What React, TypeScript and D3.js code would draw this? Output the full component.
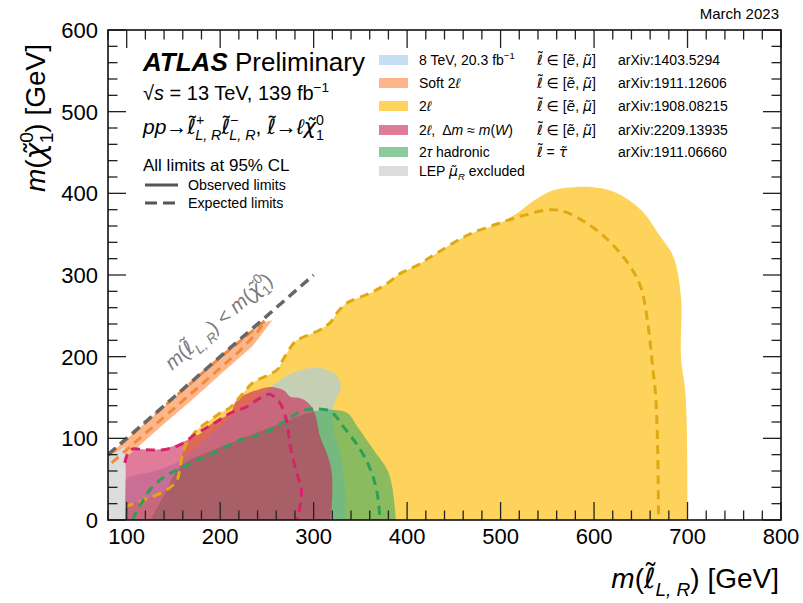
import React from "react";
import * as d3 from "d3";

type P = [number, number];

// ---------------- data (GeV) ----------------
const xMajorTicks = [100, 200, 300, 400, 500, 600, 700, 800];
const yMajorTicks = [0, 100, 200, 300, 400, 500, 600];

const kinematicLine: P[] = [[80, 80], [300, 300]];

const yellowObs: P[] = [
  [98, 0], [98, 16], [117, 24], [143, 37], [154, 49], [157, 65], [162, 89], [168, 100], [175, 110],
  [189, 122], [200, 131], [211, 138], [225, 156], [235, 168], [261, 184], [267, 196], [277, 214],
  [282, 220], [307, 233], [318, 242], [326, 255], [336, 266], [361, 278], [379, 290], [393, 302],
  [411, 312], [432, 327], [465, 349], [500, 364], [518, 376], [537, 392], [557, 404], [575, 407],
  [593, 408], [621, 402], [650, 380], [671, 347], [685, 322], [693, 273], [693, 200], [698, 151],
  [700, 9], [700, 0],
];
const yellowExp: P[] = [
  [98, 16], [117, 24], [143, 37], [154, 49], [157, 65], [162, 89], [168, 100], [175, 110],
  [189, 122], [200, 131], [211, 138], [225, 156], [235, 168], [261, 184], [267, 196], [277, 214],
  [282, 220], [307, 233], [318, 242], [326, 255], [336, 266], [361, 278], [379, 290], [393, 302],
  [411, 312], [432, 327], [465, 349], [500, 364], [525, 373], [554, 380], [572, 376], [607, 351],
  [636, 315], [650, 285], [657, 245], [663, 184], [666, 151], [668, 89], [669, 0],
];

const blueObs: P[] = [
  [98, 0], [98, 48], [130, 60], [157, 73], [180, 95], [210, 125], [240, 150], [264, 171],
  [282, 182], [307, 186], [325, 176], [329, 163], [321, 139], [321, 114], [330, 74], [334, 33], [334, 0],
];

const greenObs: P[] = [
  [125, 0], [140, 30], [157, 65], [200, 89], [246, 110], [300, 133], [318, 135], [336, 131],
  [347, 114], [364, 86], [379, 61], [384, 41], [388, 0],
];
const greenExp: P[] = [
  [106, 0], [125, 37], [143, 55], [157, 63], [179, 75], [200, 86], [221, 98], [246, 106],
  [268, 120], [286, 133], [300, 136], [318, 133], [332, 114], [350, 86], [361, 61], [368, 33], [371, 0],
];

const pinkObs: P[] = [
  [98, 0], [98, 80], [104, 86], [125, 86], [143, 88], [161, 96], [179, 106], [193, 120], [211, 131],
  [218, 147], [239, 159], [254, 163], [268, 159], [275, 151], [286, 149], [297, 140], [302, 128],
  [307, 102], [314, 82], [319, 61], [320, 33], [318, 0],
];
const pinkExp: P[] = [
  [98, 70], [104, 86], [121, 86], [139, 86], [157, 92], [175, 106], [193, 118], [211, 131],
  [229, 139], [242, 149], [253, 154], [264, 143], [271, 122], [275, 90], [282, 57], [287, 37],
  [284, 8], [282, 0],
];

const softObs: P[] = [
  [80, 79], [120, 119], [160, 159], [200, 199], [240, 239], [256, 245], [234, 212], [204, 182],
  [168, 145], [132, 110], [100, 77], [80, 58],
];
const softExp: P[] = [
  [84, 70], [100, 86], [140, 126], [180, 166], [220, 206], [240, 230], [248, 244],
  [200, 199], [150, 149], [100, 99], [82, 81],
];

const lepObs: P[] = [[80, 0], [80, 77], [90, 84], [98, 90], [99, 60], [98, 0]];

const legendLabels = ["8 TeV, 20.3 fb", "Soft 2", "2", "2, Δm ≈ m(W)", "2τ hadronic", "LEP μ̃ excluded"];
const legendRefs = ["arXiv:1403.5294", "arXiv:1911.12606", "arXiv:1908.08215", "arXiv:2209.13935", "arXiv:1911.06660", ""];
const legendRowY = [60, 83, 106, 130, 152, 171];

// ---------------- styles ----------------
const FONT = "'Liberation Sans', Arial, Helvetica, 'DejaVu Sans', sans-serif";
const MFONT = "'DejaVu Sans', sans-serif";
const C_YELLOW = "#fdd35b";
const C_BLUE = "rgb(161,205,236)";
const C_GREEN = "rgb(72,172,96)";
const C_PINK = "rgb(203,35,87)";
const C_ORANGE = "#fdb68a";
const C_LEP = "#dcdcdc";
const A_BLUE = 0.62, A_GREEN = 0.63, A_PINK = 0.6;

const X0 = 108, X1 = 781, Y0 = 520, Y1 = 30;

type Seg = {
  t: string; i?: boolean; b?: boolean; v?: "sup" | "sub"; dx?: number; dxe?: number;
  raise?: number; fs?: number; f?: string;
};

function Rich({ segs, fs, ...rest }: any) {
  let cur = 0;
  return (
    <text fontSize={fs} style={{ whiteSpace: "pre" }} {...rest}>
      {(segs as Seg[]).map((s, k) => {
        const target =
          s.v === "sup" ? -0.42 * fs : s.v === "sub" ? 0.3 * fs : s.raise ? -s.raise * fs : 0;
        const dy = target - cur;
        cur = target;
        const dx = s.dxe !== undefined ? s.dxe * fs : s.dx;
        return (
          <tspan
            key={k}
            dy={dy !== 0 ? dy : undefined}
            dx={dx}
            fontStyle={s.i ? "italic" : undefined}
            fontWeight={s.b ? "bold" : undefined}
            fontFamily={s.f}
            fontSize={s.fs ? s.fs : s.v ? fs * 0.68 : undefined}
          >
            {s.t}
          </tspan>
        );
      })}
    </text>
  );
}

const CHI = "\u03C7\u0303";
// slepton: ell with a hand-placed tilde above
const lt = (): Seg[] => [
  { t: "\u2113", i: true, f: MFONT },
  { t: "\u02DC", dxe: -0.34, raise: 0.2 },
];
const chi = (): Seg => ({ t: CHI, i: true, f: MFONT });

export default function App() {
  const x = d3.scaleLinear().domain([80, 800]).range([X0, X1]);
  const y = d3.scaleLinear().domain([0, 600]).range([Y0, Y1]);
  const smooth = d3
    .line<P>()
    .x((d) => x(d[0]))
    .y((d) => y(d[1]))
    .curve(d3.curveCatmullRom.alpha(0.5));
  const straight = d3.line<P>().x((d) => x(d[0])).y((d) => y(d[1]));
  const closed = (pts: P[]) => (smooth(pts) || "") + "Z";

  const xMinor = d3.range(80, 801, 20).filter((v) => v % 100 !== 0);
  const yMinor = d3.range(0, 601, 20).filter((v) => v % 100 !== 0);
  const MAJ = 18, MIN = 9.5;

  const dash = "9,6";
  const lw = 3;

  const angle = (Math.atan2(y(300) - y(80), x(300) - x(80)) * 180) / Math.PI;

  const sl: Seg[] = [...lt(), { t: " \u2208 [" }, { t: "e\u0303", i: true, f: MFONT }, { t: ", " }, { t: "\u03BC\u0303", i: true, f: MFONT }, { t: "]" }];
  const legendMid: Seg[][] = [sl, sl, sl, sl, [...lt(), { t: " = " }, { t: "\u03C4\u0303", i: true, f: MFONT }], []];
  const legendLab: Seg[][] = [
    [{ t: legendLabels[0] }, { t: "\u22121", v: "sup" }],
    [{ t: legendLabels[1] }, { t: "\u2113", i: true }],
    [{ t: legendLabels[2] }, { t: "\u2113", i: true }],
    [{ t: "2" }, { t: "\u2113", i: true }, { t: ",  Δ" }, { t: "m", i: true }, { t: " ≈ " }, { t: "m", i: true }, { t: "(" }, { t: "W", i: true }, { t: ")" }],
    [{ t: "2" }, { t: "τ", i: true }, { t: " hadronic" }],
    [{ t: "LEP " }, { t: "\u03BC\u0303", i: true, f: MFONT }, { t: "R", i: true, v: "sub" }, { t: " excluded" }],
  ];
  const legendColors = [C_BLUE, C_ORANGE, C_YELLOW, C_PINK, C_GREEN, C_LEP];
  const legendAlpha = [A_BLUE, 1, 1, A_PINK, A_GREEN, 1];

  return (
    <svg
      width={803}
      height={603}
      style={{ position: "absolute", left: 0, top: 0, background: "#fff" }}
      fontFamily={FONT}
    >
      <defs>
        <clipPath id="plot">
          <rect x={X0} y={Y1} width={X1 - X0} height={Y0 - Y1} />
        </clipPath>
      </defs>
      <rect x={0} y={0} width={803} height={603} fill="#fff" />

      <g clipPath="url(#plot)">
        <path d={closed(yellowObs)} fill={C_YELLOW} />
        <path d={closed(blueObs)} fill={C_BLUE} fillOpacity={A_BLUE} />
        <path d={closed(greenObs)} fill={C_GREEN} fillOpacity={A_GREEN} />
        <path d={closed(pinkObs)} fill={C_PINK} fillOpacity={A_PINK} />
        <path d={straight(softObs) + "Z"} fill={C_ORANGE} />
        <path d={straight(lepObs) + "Z"} fill={C_LEP} />

        <path d={smooth(yellowExp) || ""} fill="none" stroke="#e0a812" strokeWidth={lw} strokeDasharray={dash} />
        <path d={smooth(greenExp) || ""} fill="none" stroke="#2e9e58" strokeWidth={lw} strokeDasharray={dash} />
        <path d={smooth(pinkExp) || ""} fill="none" stroke="#d6246a" strokeWidth={lw} strokeDasharray={dash} />
        <path d={straight(softExp) || ""} fill="none" stroke="#f28a3e" strokeWidth={lw} strokeDasharray={dash} />
        <path d={straight(kinematicLine) || ""} fill="none" stroke="#666" strokeWidth={3.5} strokeDasharray="10,6" />
      </g>

      {/* kinematic label */}
      <g transform={`translate(${x(203)},${y(237)}) rotate(${angle})`}>
        <Rich
          fs={20}
          fill="#7a7a7a"
          textAnchor="middle"
          segs={[
            { t: "m", i: true }, { t: "(" }, ...lt(), { t: "L, R", i: true, v: "sub" }, { t: ") < " },
            { t: "m", i: true }, { t: "(" }, chi(), { t: "0", v: "sup" }, { t: "1", v: "sub", dx: -8 }, { t: ")" },
          ]}
        />
      </g>

      {/* frame & ticks */}
      <g stroke="#222" strokeWidth={1.3}>
        {xMajorTicks.map((v) => (
          <g key={"xM" + v}>
            <line x1={x(v)} x2={x(v)} y1={Y0} y2={Y0 - MAJ} />
            <line x1={x(v)} x2={x(v)} y1={Y1} y2={Y1 + MAJ} />
          </g>
        ))}
        {xMinor.map((v) => (
          <g key={"xm" + v}>
            <line x1={x(v)} x2={x(v)} y1={Y0} y2={Y0 - MIN} />
            <line x1={x(v)} x2={x(v)} y1={Y1} y2={Y1 + MIN} />
          </g>
        ))}
        {yMajorTicks.map((v) => (
          <g key={"yM" + v}>
            <line x1={X0} x2={X0 + MAJ} y1={y(v)} y2={y(v)} />
            <line x1={X1} x2={X1 - MAJ} y1={y(v)} y2={y(v)} />
          </g>
        ))}
        {yMinor.map((v) => (
          <g key={"ym" + v}>
            <line x1={X0} x2={X0 + MIN} y1={y(v)} y2={y(v)} />
            <line x1={X1} x2={X1 - MIN} y1={y(v)} y2={y(v)} />
          </g>
        ))}
      </g>
      <rect x={X0} y={Y1} width={X1 - X0} height={Y0 - Y1} fill="none" stroke="#111" strokeWidth={1.6} />

      {/* tick labels */}
      {xMajorTicks.map((v) => (
        <text key={"xl" + v} x={x(v)} y={544} fontSize={22} textAnchor="middle" fill="#000">
          {v}
        </text>
      ))}
      {yMajorTicks.map((v) => (
        <text key={"yl" + v} x={98} y={y(v) + 8} fontSize={22} textAnchor="end" fill="#000">
          {v}
        </text>
      ))}

      {/* axis titles */}
      <Rich
        fs={28}
        x={779}
        y={588}
        textAnchor="end"
        segs={[
          { t: "m", i: true }, { t: "(" }, ...lt(), { t: "L, R", i: true, v: "sub" }, { t: ") [GeV]" },
        ]}
      />
      <g transform="translate(45,118) rotate(-90)">
        <Rich
          fs={28}
          textAnchor="middle"
          segs={[
            { t: "m", i: true }, { t: "(" }, chi(), { t: "0", v: "sup" }, { t: "1", v: "sub", dx: -11 }, { t: ") [GeV]" },
          ]}
        />
      </g>

      <text x={779} y={19} fontSize={15} textAnchor="end">March 2023</text>

      {/* ATLAS block */}
      <text x={143} y={71} fontSize={26}>
        <tspan fontWeight="bold" fontStyle="italic">ATLAS</tspan>
        <tspan> Preliminary</tspan>
      </text>
      <Rich
        fs={20}
        x={143}
        y={100}
        segs={[{ t: "\u221A" }, { t: "s", i: true }, { t: " = 13 TeV, 139 fb" }, { t: "\u22121", v: "sup" }]}
      />
      <Rich
        fs={21}
        x={143}
        y={134}
        segs={[
          { t: "pp", i: true }, { t: "\u2192" }, ...lt(), { t: "+", v: "sup" }, { t: "L, R", i: true, v: "sub", dx: -9 },
          ...lt(), { t: "\u2212", v: "sup" }, { t: "L, R", i: true, v: "sub", dx: -9 },
          { t: ", " }, ...lt(), { t: "\u2192" }, { t: "\u2113", i: true }, chi(),
          { t: "0", v: "sup" }, { t: "1", v: "sub", dx: -8 },
        ]}
      />
      <text x={143} y={171} fontSize={17}>All limits at 95% CL</text>
      <line x1={145} x2={178} y1={185} y2={185} stroke="#555" strokeWidth={3} />
      <line x1={145} x2={178} y1={203} y2={203} stroke="#555" strokeWidth={3} strokeDasharray="12,6" />
      <text x={188} y={190} fontSize={14.2}>Observed limits</text>
      <text x={188} y={208} fontSize={14.2}>Expected limits</text>

      {/* legend */}
      {legendRowY.map((ry, k) => (
        <g key={"lg" + k}>
          <rect x={379} y={ry - 5} width={29} height={10} fill={legendColors[k]} fillOpacity={legendAlpha[k]} />
          <Rich fs={14} x={419} y={ry + 5} segs={legendLab[k]} />
          <Rich fs={14} x={537} y={ry + 5} segs={legendMid[k]} />
          <text x={618} y={ry + 5} fontSize={14}>{legendRefs[k]}</text>
        </g>
      ))}
    </svg>
  );
}
